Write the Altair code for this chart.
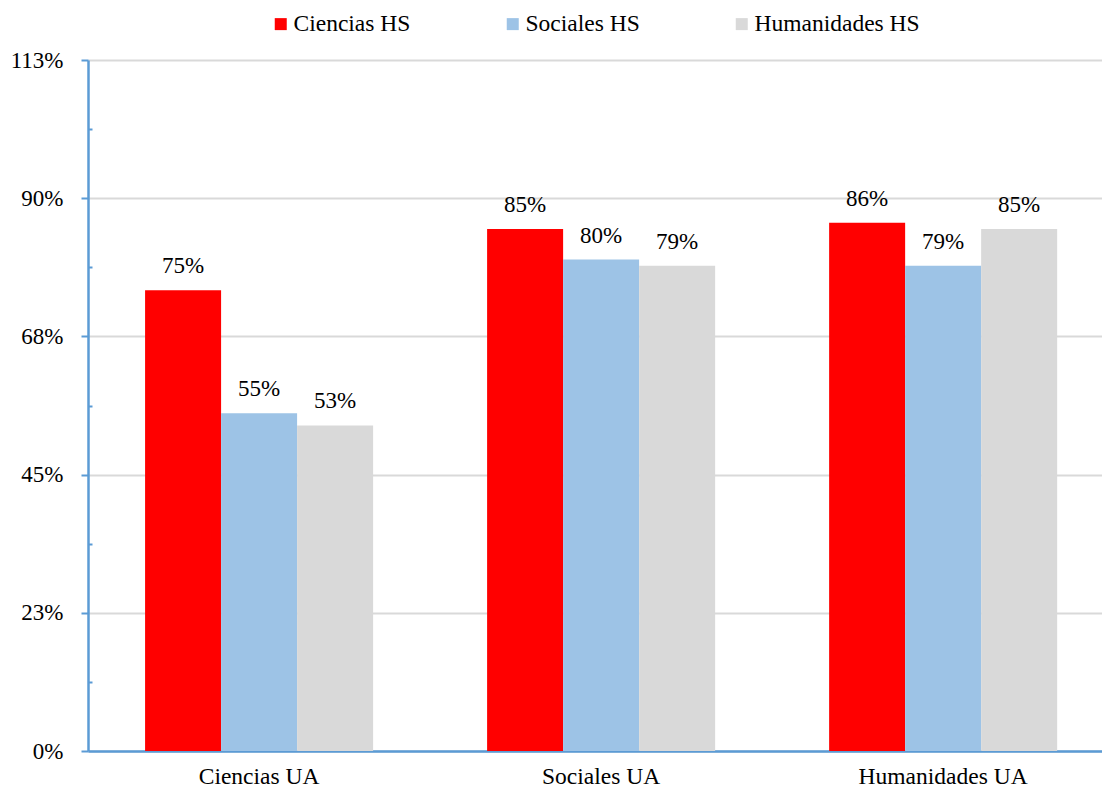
import altair as alt
import pandas as pd

# Grupos del eje X y series de la leyenda
grupos = ["Ciencias UA", "Sociales UA", "Humanidades UA"]
series = ["Ciencias HS", "Sociales HS", "Humanidades HS"]

# Porcentajes por serie (en el orden de los grupos)
ciencias_hs = [75, 85, 86]
sociales_hs = [55, 80, 79]
humanidades_hs = [53, 79, 85]

colores = ["#FF0000", "#9DC3E6", "#D9D9D9"]

# Marcas del eje Y (principales y secundarias)
ticks_y = [0, 11.25, 22.5, 33.75, 45, 56.25, 67.5, 78.75, 90, 101.25, 112.5]

filas = []
for serie, valores in zip(series, [ciencias_hs, sociales_hs, humanidades_hs]):
    for g, v in zip(grupos, valores):
        filas.append({"grupo": g, "serie": serie, "valor": v, "etiqueta": f"{v}%"})
df = pd.DataFrame(filas)

FUENTE = "Liberation Serif"
es_mayor = "abs(datum.value / 22.5 - round(datum.value / 22.5)) < 0.001"

x = alt.X(
    "grupo:N",
    sort=grupos,
    title=None,
    scale=alt.Scale(paddingInner=0.3333, paddingOuter=0.149, align=0.56),
    axis=alt.Axis(
        labelAngle=0,
        labelFont=FUENTE,
        labelFontSize=23.5,
        labelColor="#000000",
        labelPadding=13,
        ticks=False,
        domainColor="#5B9BD5",
        domainWidth=2.5,
        grid=False,
    ),
)

y = alt.Y(
    "valor:Q",
    title=None,
    scale=alt.Scale(domain=[0, 112.5], nice=False, zero=True),
    axis=alt.Axis(
        values=ticks_y,
        labelExpr=f"{es_mayor} ? format(datum.value, '.0f') + '%' : ''",
        labelFont=FUENTE,
        labelFontSize=23,
        labelColor="#000000",
        labelPadding=18,
        domainColor="#5B9BD5",
        domainWidth=2.5,
        tickColor="#5B9BD5",
        tickWidth=2,
        tickSize={"expr": f"{es_mayor} ? 7 : -4"},
        grid=True,
        gridColor="#D9D9D9",
        gridWidth=2,
        gridOpacity={"expr": f"{es_mayor} ? 1 : 0"},
    ),
)

color = alt.Color(
    "serie:N",
    sort=series,
    scale=alt.Scale(domain=series, range=colores),
    legend=alt.Legend(
        title=None,
        orient="none",
        legendX=181,
        legendY=-48,
        direction="horizontal",
        symbolType="square",
        symbolSize=144,
        symbolStrokeWidth=0,
        symbolOpacity=1,
        labelFont=FUENTE,
        labelFontSize=23.5,
        labelColor="#000000",
        labelOffset=1,
        labelLimit=400,
        columnPadding=90,
    ),
)

barras = alt.Chart(df).mark_bar(opacity=1).encode(
    x=x,
    xOffset=alt.XOffset("serie:N", sort=series, scale=alt.Scale(paddingInner=0, paddingOuter=0)),
    y=y,
    color=color,
)

textos = alt.Chart(df).mark_text(
    font=FUENTE, fontSize=23, color="#000000", baseline="alphabetic", dy=-17
).encode(
    x=alt.X("grupo:N", sort=grupos),
    xOffset=alt.XOffset("serie:N", sort=series),
    y=alt.Y("valor:Q"),
    text="etiqueta:N",
)

chart = (
    alt.layer(barras, textos)
    .properties(
        width=1014,
        height=691,
        autosize=alt.AutoSizeParams(type="none"),
        padding={"left": 88, "top": 60, "right": 0, "bottom": 38},
        background="#FFFFFF",
    )
    .configure_view(stroke=None)
)

chart.save("out.html", embed_options={"renderer": "svg", "actions": False})
